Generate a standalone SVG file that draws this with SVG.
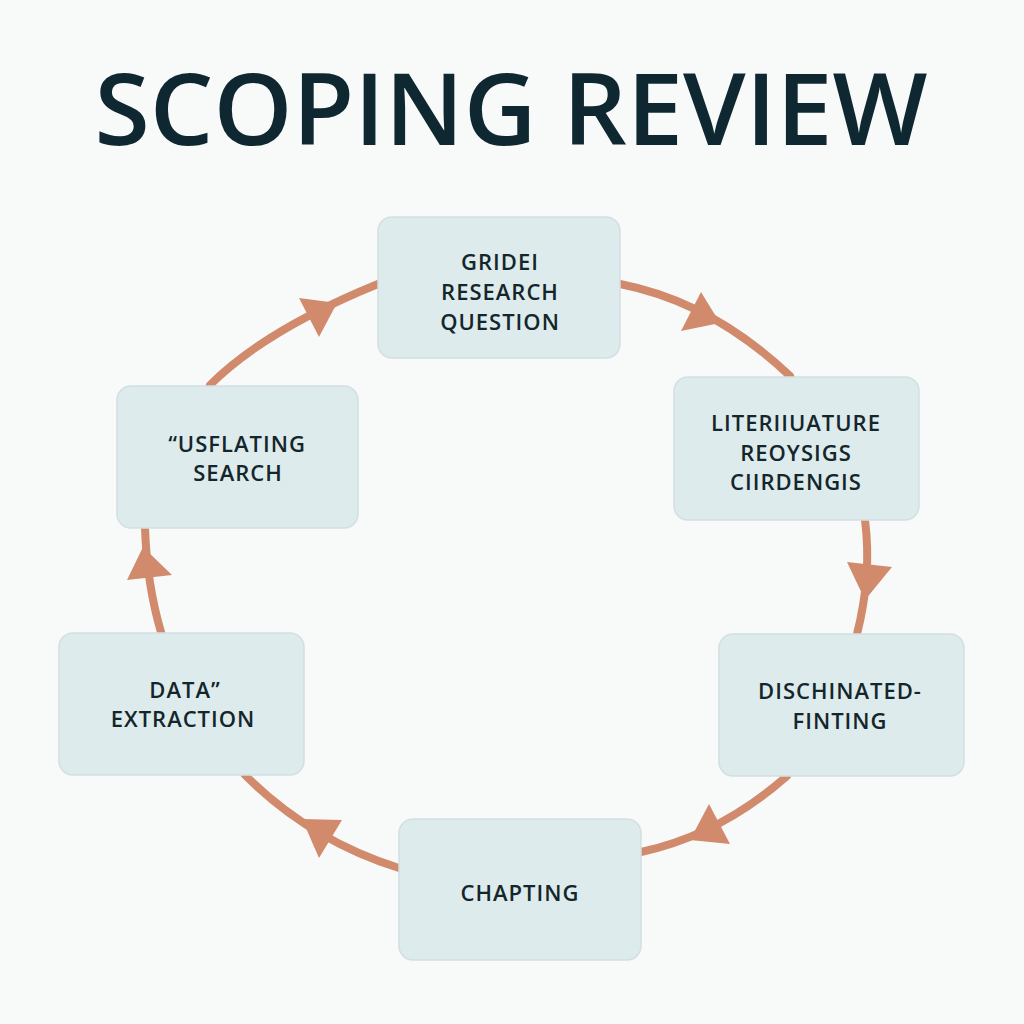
<svg xmlns="http://www.w3.org/2000/svg" width="1024" height="1024" viewBox="0 0 1024 1024">
<style>
.bg{fill:#f8fafa}
.node rect{fill:#deebec;stroke:#d2e0e2;stroke-width:1.5}
.node text{font-family:"Open Sans","Noto Sans","Liberation Sans",sans-serif;font-weight:600;font-size:22px;fill:#13262b;text-anchor:middle;letter-spacing:1px}
.title{font-family:"Open Sans","Noto Sans","Liberation Sans",sans-serif;font-weight:600;font-size:100px;fill:#0f2730;text-anchor:middle}
#connectors path{fill:none;stroke:#d18a6c;stroke-width:8;stroke-linecap:round}
#connectors polygon{fill:#d18a6c}
</style>
<rect class="bg" x="0" y="0" width="1024" height="1024"/>
<text class="title" x="511" y="145" textLength="833" lengthAdjust="spacingAndGlyphs">SCOPING REVIEW</text>
<g id="connectors">
<path d="M210 385 Q265 330 378 284"/>
<polygon points="299,298 337,303 319,337"/>
<path d="M620 284 Q712 302 790 376"/>
<polygon points="701,292 681,331 720,323"/>
<path d="M865 520 Q872 575 857 634"/>
<polygon points="847,562 892,567 865,600"/>
<path d="M787 776 Q720 835 641 852"/>
<polygon points="709,804 690,840 730,844"/>
<path d="M399 868 Q310 840 245 775"/>
<polygon points="302,819 342,820 319,858"/>
<path d="M161 632 Q147 585 145 528"/>
<polygon points="143,547 127,580 172,575"/>
</g>
<g id="node-research-question" class="node">
<rect x="378" y="217" width="242" height="141" rx="14"/>
<text x="500" y="270">GRIDEI</text>
<text x="500" y="300">RESEARCH</text>
<text x="500" y="330">QUESTION</text>
</g>
<g id="node-literature" class="node">
<rect x="674" y="377" width="245" height="143" rx="14"/>
<text x="796" y="431">LITERIIUATURE</text>
<text x="796" y="461">REOYSIGS</text>
<text x="796" y="490">CIIRDENGIS</text>
</g>
<g id="node-dischinated" class="node">
<rect x="719" y="634" width="245" height="142" rx="14"/>
<text x="840" y="699">DISCHINATED-</text>
<text x="840" y="729">FINTING</text>
</g>
<g id="node-chapting" class="node">
<rect x="399" y="819" width="242" height="141" rx="14"/>
<text x="520" y="901">CHAPTING</text>
</g>
<g id="node-data-extraction" class="node">
<rect x="59" y="633" width="245" height="142" rx="14"/>
<text x="185" y="698">DATA”</text>
<text x="183" y="727">EXTRACTION</text>
</g>
<g id="node-search" class="node">
<rect x="117" y="386" width="241" height="142" rx="14"/>
<text x="237" y="452">“USFLATING</text>
<text x="238" y="481">SEARCH</text>
</g>
</svg>
